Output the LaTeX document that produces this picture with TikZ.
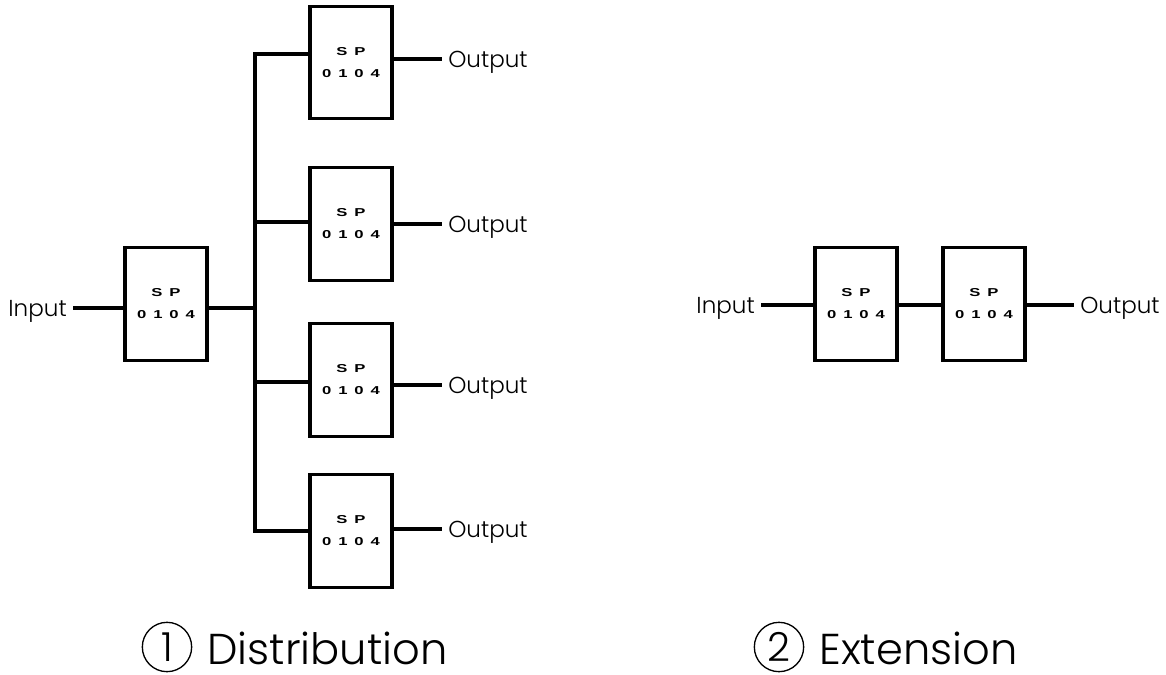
\documentclass[tikz,border=0pt]{standalone}
\usepackage{fontspec}
\setmainfont{Poppins}[UprightFont=* Light]
\newfontfamily\spfont[FakeStretch=1.45,LetterSpace=60]{Liberation Sans}
\begin{document}
\begin{tikzpicture}[x=0.75pt,y=-0.75pt,
  wire/.style={line width=2.4pt,line join=miter},
  spbox/.style={draw,line width=2.4pt,rectangle,minimum width=61.5pt,minimum height=84.5pt,inner sep=0pt,
    font=\spfont\bfseries\fontsize{8.6pt}{16.5pt}\selectfont,align=center},
  lbl/.style={font=\fontsize{17.3pt}{20pt}\selectfont,text height=12.1pt,text depth=0pt,inner ysep=0pt,inner xsep=4.5pt},
  captext/.style={font=\fontsize{32.4pt}{34pt}\selectfont,text height=22.7pt,text depth=0pt,inner sep=0pt},
  num/.style={draw,circle,line width=1pt,minimum size=37pt,inner sep=0pt,text height=21pt,text depth=0pt,
    font=\fontsize{30pt}{32pt}\selectfont}
]
\useasboundingbox (0,0) rectangle (1166,674);
% ---------- Distribution ----------
\node[spbox] (L) at (166,304) {SP\\0104};
\node[spbox] (R1) at (351,62.5) {SP\\0104};
\node[spbox] (R2) at (351,224) {SP\\0104};
\node[spbox] (R3) at (351,380) {SP\\0104};
\node[spbox] (R4) at (351,531) {SP\\0104};
\node[lbl,anchor=east] (in) at (73,308) {Input};
\node[lbl,anchor=west] (o1) at (442,59) {Output};
\node[lbl,anchor=west] (o2) at (442,224) {Output};
\node[lbl,anchor=west] (o3) at (442,385) {Output};
\node[lbl,anchor=west] (o4) at (442,529) {Output};
\coordinate (b1) at (255,54);
\coordinate (b2) at (255,222);
\coordinate (b3) at (255,382);
\coordinate (b4) at (255,531);
\coordinate (bL) at (255,308);
\draw[wire] (in.east) -- (L.west |- in.east);
\draw[wire] (L.east |- bL) -- (bL);
\draw[wire] (R1.west |- b1) -- (b1) -- (b4) -- (R4.west |- b4);
\draw[wire] (b2) -- (R2.west |- b2);
\draw[wire] (b3) -- (R3.west |- b3);
\draw[wire] (R1.east |- o1.west) -- (o1.west);
\draw[wire] (R2.east |- o2.west) -- (o2.west);
\draw[wire] (R3.east |- o3.west) -- (o3.west);
\draw[wire] (R4.east |- o4.west) -- (o4.west);
% ---------- Extension ----------
\node[spbox] (E1) at (856,304) {SP\\0104};
\node[spbox] (E2) at (984,304) {SP\\0104};
\node[lbl,anchor=east] (in2) at (761,305) {Input};
\node[lbl,anchor=west] (out2) at (1074,305) {Output};
\draw[wire] (in2.east) -- (E1.west |- in2.east);
\draw[wire] (E1.east |- in2.east) -- (E2.west |- in2.east);
\draw[wire] (E2.east |- out2.west) -- (out2.west);
% ---------- captions ----------
\node[num] (n1) at (167,647) {1};
\node[captext,anchor=west] (c1) at (207,649) {Distribution};
\node[num] (n2) at (779,647) {2};
\node[captext,anchor=west] (c2) at (819,649) {Extension};
\end{tikzpicture}
\end{document}
